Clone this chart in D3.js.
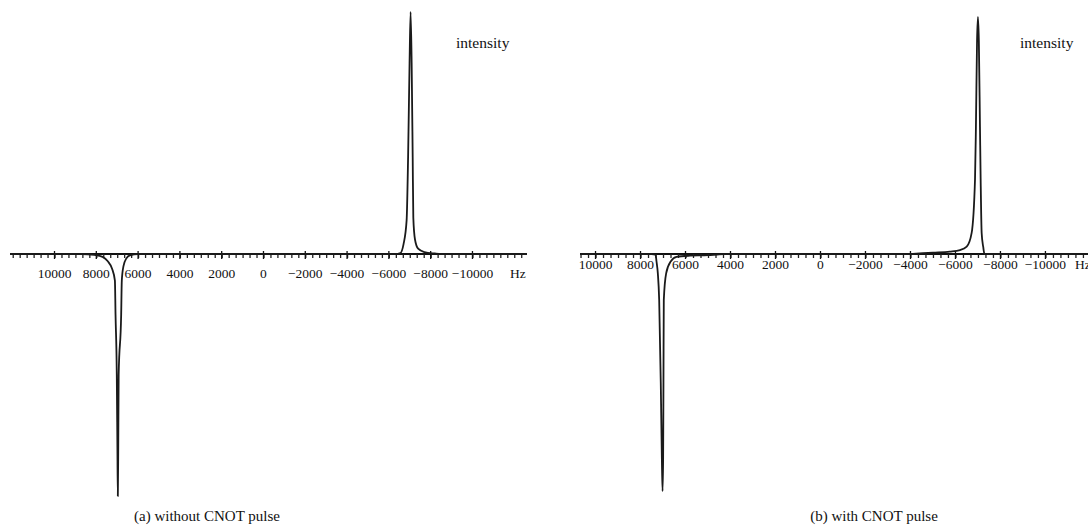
<!DOCTYPE html>
<html>
<head>
<meta charset="utf-8">
<script src="https://cdn.jsdelivr.net/npm/d3@7"></script>
<style>
  html, body { margin: 0; padding: 0; background: #fff; }
  svg { display: block; }
  text { font-family: "Liberation Serif", "DejaVu Serif", serif; fill: #111; }
</style>
</head>
<body>
<svg id="chart" width="1088" height="527"></svg>
<script>
// Frequency tick values (Hz) and their printed labels
const tickValues = [10000, 8000, 6000, 4000, 2000, 0, -2000, -4000, -6000, -8000, -10000];
const tickLabels = ["10000", "8000", "6000", "4000", "2000", "0", "\u22122000", "\u22124000", "\u22126000", "\u22128000", "\u221210000"];
const axisUnit = "Hz";
const intensityLabel = "intensity";
const captions = ["(a) without CNOT pulse", "(b) with CNOT pulse"];

// Spectrum (a): frequency (Hz) and relative intensity
const spectrumAHz = [12130, 8700, 8100, 7700, 7450, 7250, 7110, 7080, 7020, 6990, 6970, 6950, 6930, 6810, 6780, 6700, 6560, 6400, 6000,
  -6300, -6550, -6700, -6850, -6920, -6990, -7040, -7090, -7140, -7170, -7250, -7400, -7700, -8200, -8500, -12610];
const spectrumAInt = [0, 0, -0.004, -0.012, -0.03, -0.06, -0.11, -0.25, -0.5, -0.8, -1.0, -0.8, -0.5, -0.25, -0.11, -0.05, -0.018, -0.006, 0,
  0, 0.004, 0.04, 0.14, 0.40, 0.79, 1.0, 0.79, 0.40, 0.15, 0.06, 0.022, 0.008, 0.002, 0, 0];

// Spectrum (b): frequency (Hz) and relative intensity
const spectrumBHz = [10690, 7500, 7330, 7290, 7230, 7170, 7100, 7050, 7020, 6995, 6980, 6965, 6860, 6650, 6400, 5800, 5000, 4600, 4300,
  -4000, -4400, -5000, -5750, -6200, -6500, -6720, -6870, -6910, -6960, -7000, -7040, -7090, -7120, -7165, -7235, -7290, -12070];
const spectrumBInt = [0, 0, -0.003, -0.03, -0.08, -0.19, -0.53, -0.85, -0.98, -0.85, -0.53, -0.19, -0.08, -0.03, -0.012, -0.007, -0.005, -0.002, 0,
  0, 0.003, 0.006, 0.01, 0.016, 0.03, 0.087, 0.31, 0.525, 0.88, 0.98, 0.88, 0.525, 0.31, 0.087, 0.029, 0, 0];

const svg = d3.select("#chart");
svg.append("rect").attr("width", 1088).attr("height", 527).attr("fill", "#fff");

const panels = [
  { hz: spectrumAHz, val: spectrumAInt, domain: [12130, -12610], range: [10, 527],
    labelY: 278, unitX: 510, intensityX: 456, caption: captions[0], captionX: 207 },
  { hz: spectrumBHz, val: spectrumBInt, domain: [10690, -12070], range: [580, 1092],
    labelY: 269, unitX: 1075, intensityX: 1020, caption: captions[1], captionX: 874 }
];

const axisY = 254;
const y = d3.scaleLinear().domain([-1, 1]).range([496, 12]);

panels.forEach(p => {
  const x = d3.scaleLinear().domain(p.domain).range(p.range);
  const g = svg.append("g");

  // minor ticks every 1/6 of a label interval
  const step = 2000 / 6;
  const lo = Math.min(...p.domain), hi = Math.max(...p.domain);
  const minor = d3.range(Math.ceil(lo / step), Math.floor(hi / step) + 1).map(k => k * step);
  const axis = d3.axisBottom(x).tickValues(minor).tickSize(4).tickFormat("");
  const ax = g.append("g").attr("transform", `translate(0,${axisY})`).call(axis);
  ax.select(".domain").attr("stroke", "#111").attr("stroke-width", 2.2).attr("d", `M${p.range[0]},0H${p.range[1]}`);
  ax.selectAll(".tick line").attr("stroke", "#222").attr("stroke-width", 1.3);

  // major ticks at labelled frequencies
  g.selectAll("line.major").data(tickValues).join("line")
    .attr("class", "major")
    .attr("x1", d => x(d)).attr("x2", d => x(d))
    .attr("y1", axisY - 3).attr("y2", axisY + 5)
    .attr("stroke", "#111").attr("stroke-width", 1.3);

  // tick labels
  g.selectAll("text.tl").data(tickValues).join("text")
    .attr("class", "tl")
    .attr("x", d => x(d)).attr("y", p.labelY)
    .attr("text-anchor", "middle")
    .attr("font-size", 13.5)
    .text((d, i) => tickLabels[i]);

  g.append("text").attr("x", p.unitX).attr("y", p.labelY)
    .attr("font-size", 13.5).text(axisUnit);

  // spectrum trace
  const pts = p.hz.map((h, i) => [h, p.val[i]]);
  const line = d3.line().x(d => x(d[0])).y(d => y(d[1])).curve(d3.curveMonotoneX);
  g.append("path").datum(pts)
    .attr("d", line)
    .attr("fill", "none")
    .attr("stroke", "#1a1a1a")
    .attr("stroke-width", 1.8)
    .attr("stroke-linejoin", "round");

  g.append("text").attr("x", p.intensityX).attr("y", 48)
    .attr("font-size", 15.5).text(intensityLabel);

  g.append("text").attr("x", p.captionX).attr("y", 521)
    .attr("text-anchor", "middle").attr("font-size", 15).text(p.caption);
});
</script>
</body>
</html>
